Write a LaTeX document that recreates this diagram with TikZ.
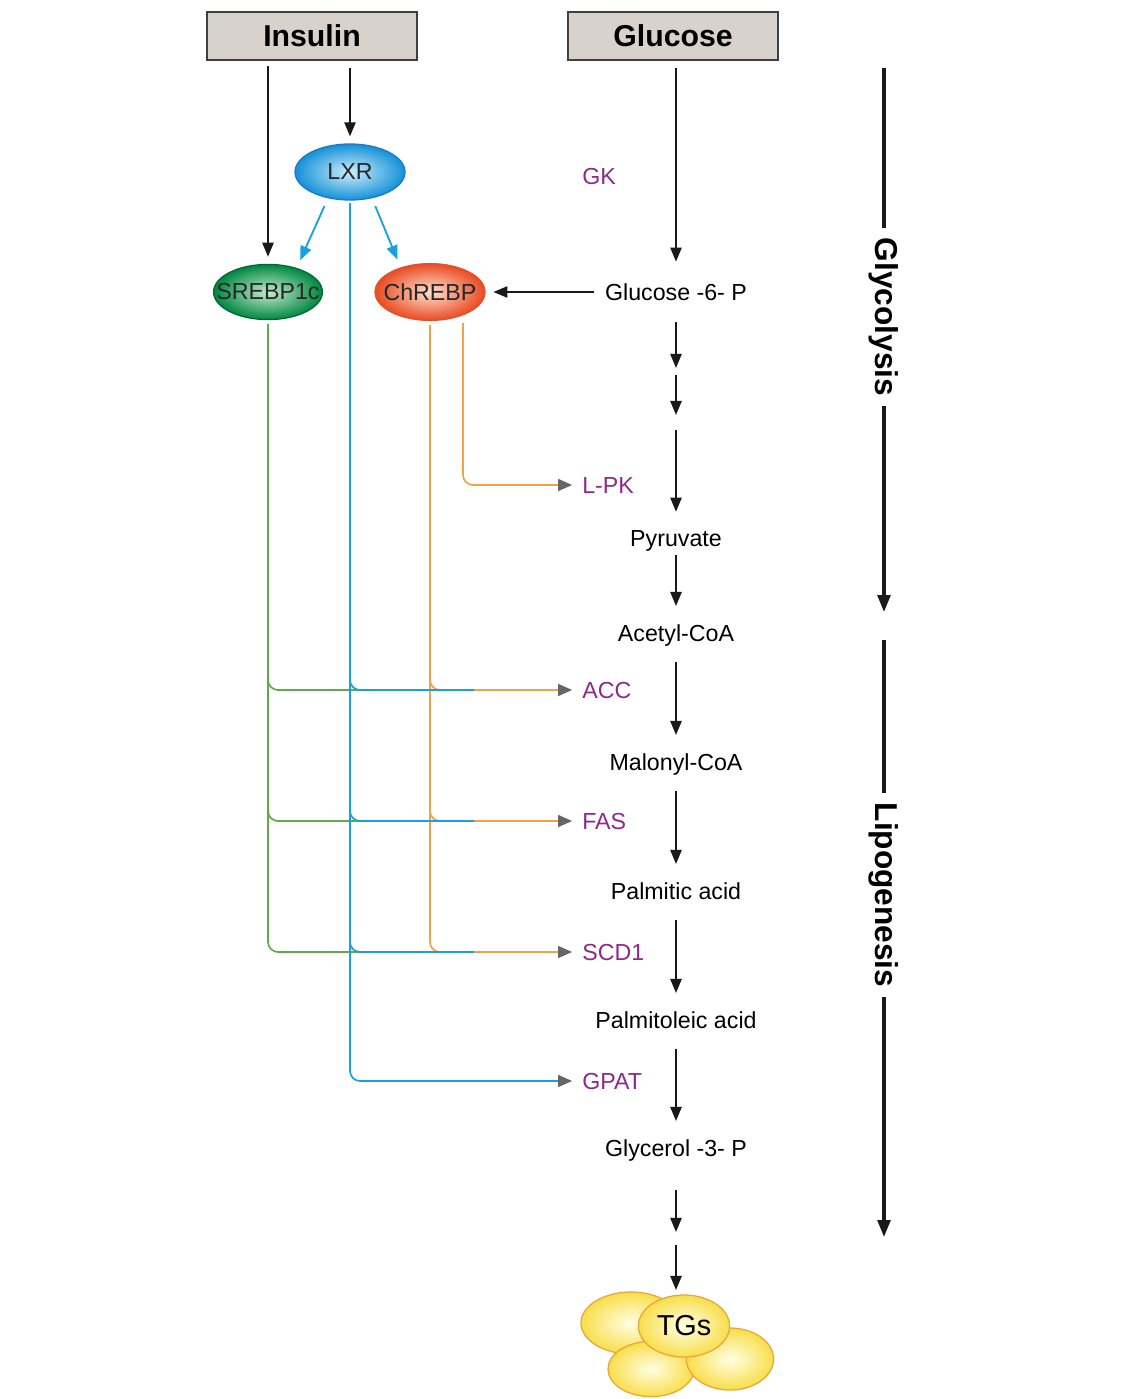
\documentclass[tikz,border=0pt]{standalone}
\usepackage{fontspec}
\setmainfont{Liberation Sans}
\usepackage{tikz}
\usetikzlibrary{arrows.meta,positioning,calc,shapes.geometric}
\definecolor{boxgray}{RGB}{216,210,205}
\definecolor{enzcol}{RGB}{142,40,138}
\definecolor{lxrblue}{RGB}{25,160,225}
\definecolor{srgreen}{RGB}{95,170,75}
\definecolor{chorange}{RGB}{243,160,70}
\definecolor{tgedge}{RGB}{236,165,55}
\tikzset{
  box/.style    ={draw=black!75,fill=boxgray,line width=0.9pt,minimum width=5.25cm,
                  minimum height=1.2cm,inner sep=0pt,font=\fontsize{21.5}{24}\selectfont\bfseries},
  met/.style    ={inner sep=0pt,text height=12pt,text depth=0pt,font=\fontsize{16.5}{20}\selectfont},
  enz/.style    ={met,text=enzcol,anchor=west},
  tf/.style     ={ellipse,inner sep=0pt,line width=0.9pt},
  tftxt/.style  ={font=\fontsize{16.5}{18}\selectfont,text=black!85},
  fat/.style    ={ellipse,draw=tgedge,line width=0.9pt,inner sep=0pt,
                  inner color=yellow!10,outer color={rgb,255:red,248;green,222;blue,75}},
  side/.style   ={rotate=-90,inner xsep=7pt,inner ysep=0pt,font=\fontsize{22.5}{24}\selectfont\bfseries},
  flow/.style   ={-{Triangle[length=10pt,width=8pt]},line width=1.3pt,black!90},
  bigflow/.style={line width=2.4pt,black!90},
  blu/.style    ={lxrblue,line width=1.2pt,rounded corners=0.25cm},
  grn/.style    ={srgreen,line width=1.2pt,rounded corners=0.25cm},
  orn/.style    ={chorange,line width=1.2pt,rounded corners=0.25cm},
  act/.style    ={-{Triangle[length=10pt,width=8.5pt,color=black!60]},shorten >=7pt},
}
\begin{document}
\begin{tikzpicture}[x=0.025cm,y=-0.025cm]
  \useasboundingbox (0,0) rectangle (1143,1399);
  % inputs
  \node[box] (ins) at (312,36) {Insulin};
  \node[box] (glc) at (673,36) {Glucose};
  % transcription factors
  \node[tf,draw={rgb,255:red,30;green,120;blue,200},inner color={rgb,255:red,205;green,238;blue,252},
        outer color={rgb,255:red,20;green,145;blue,215},minimum width=2.75cm,minimum height=1.4cm] (lxr) at (350,172) {};
  \node[tf,draw={rgb,255:red,0;green,105;blue,50},inner color={rgb,255:red,195;green,235;blue,205},
        outer color={rgb,255:red,0;green,135;blue,65},minimum width=2.72cm,minimum height=1.38cm] (srebp) at (268,292) {};
  \node[tf,draw={rgb,255:red,225;green,85;blue,40},inner color={rgb,255:red,255;green,225;blue,205},
        outer color={rgb,255:red,232;green,75;blue,35},minimum width=2.75cm,minimum height=1.42cm] (chrebp) at (430,292) {};
  \node[tftxt] at (lxr) {LXR};
  \node[tftxt] at (srebp) {SREBP1c};
  \node[tftxt] at (chrebp) {ChREBP};
  % metabolites
  \node[met] (g6p)   at (676,292)  {Glucose -6- P};
  \node[met] (pyr)   at (676,538)  {Pyruvate};
  \node[met] (acoa)  at (676,633)  {Acetyl-CoA};
  \node[met] (mcoa)  at (676,762)  {Malonyl-CoA};
  \node[met] (palm)  at (676,891)  {Palmitic acid};
  \node[met] (palmo) at (676,1020) {Palmitoleic acid};
  \node[met] (g3p)   at (676,1148) {Glycerol -3- P};
  % enzymes
  \node[enz] (gk)   at (582,176)  {GK};
  \node[enz] (lpk)  at (582,485)  {L-PK};
  \node[enz] (acc)  at (582,690)  {ACC};
  \node[enz] (fas)  at (582,821)  {FAS};
  \node[enz] (scd)  at (582,952)  {SCD1};
  \node[enz] (gpat) at (582,1081) {GPAT};
  % TG droplets
  \node[fat,minimum width=2.5cm,minimum height=1.55cm]  (tga) at (631,1323) {};
  \node[fat,minimum width=2.15cm,minimum height=1.38cm] (tgb) at (651,1369) {};
  \node[fat,minimum width=2.18cm,minimum height=1.55cm] (tgc) at (730,1359) {};
  \node[fat,minimum width=2.28cm,minimum height=1.55cm,font=\fontsize{20.5}{22}\selectfont] (tgs) at (684,1326) {TGs};
  % step points
  \coordinate (s1) at (676,368);
  \coordinate (s2) at (676,375);
  \coordinate (s3) at (676,415);
  \coordinate (s4) at (676,430);
  \coordinate (s5) at (676,1232);
  \coordinate (s6) at (676,1245);
  \coordinate (s7) at (676,1290);
  \coordinate (bend) at (474,0);
  \coordinate (lpkx) at ($(chrebp.south)+(33,2)$);
  % pathway
  \draw[flow,shorten <=5.5pt,shorten >=15.4pt] (g6p |- glc.south) -- (g6p.north);
  \draw[flow,shorten <=15.4pt] (g6p.south) -- (s1);
  \draw[flow] (s2) -- (s3);
  \draw[flow,shorten >=12.5pt] (s4) -- (pyr.north);
  \draw[flow,shorten <=6pt,shorten >=13pt] (pyr.south) -- (acoa.north);
  \foreach \a/\b in {acoa/mcoa,mcoa/palm,palm/palmo,palmo/g3p}
    \draw[flow,shorten <=14.5pt,shorten >=13pt] (\a.south) -- (\b.north);
  \draw[flow,shorten <=24pt] (g3p.south) -- (s5);
  \draw[flow] (s6) -- (s7);
  \draw[flow,shorten <=8pt,shorten >=5.5pt] (g6p.west) -- (chrebp.east);
  % insulin / LXR
  \draw[flow,shorten <=4pt,shorten >=5pt] (srebp |- ins.south) -- (srebp.north);
  \draw[flow,shorten <=5pt,shorten >=5pt] (lxr |- ins.south) -- (lxr.north);
  \draw[-{Triangle[length=10pt,width=8pt]},lxrblue,line width=1.3pt,shorten <=6pt,shorten >=6pt] (lxr.230) -- (srebp.40);
  \draw[-{Triangle[length=10pt,width=8pt]},lxrblue,line width=1.3pt,shorten <=6pt,shorten >=6pt] (lxr.310) -- (chrebp.140);
  % target genes
  \draw[orn,act] (lpkx) |- (lpk.west);
  \foreach \t in {acc,fas,scd}
    \draw[orn,act,shorten <=3pt] (chrebp.south) |- (\t.west);
  \foreach \t in {acc,fas,scd}
    \draw[grn,shorten <=3pt] (srebp.south) |- (\t.west -| bend);
  \foreach \t in {acc,fas,scd}
    \draw[blu,shorten <=2pt] (lxr.south) |- (\t.west -| bend);
  \draw[blu,act,shorten <=2pt] (lxr.south) |- (gpat.west);
  % side arrows
  \node[side] (gly) at (884,317) {Glycolysis};
  \node[side] (lip) at (884,895) {Lipogenesis};
  \coordinate (gly0) at (884,68);
  \coordinate (gly1) at (884,612);
  \coordinate (lip0) at (884,640);
  \coordinate (lip1) at (884,1237);
  \draw[bigflow] (gly0) -- (gly.west);
  \draw[bigflow,-{Triangle[length=12pt,width=9pt]}] (gly.east) -- (gly1);
  \draw[bigflow] (lip0) -- (lip.west);
  \draw[bigflow,-{Triangle[length=12pt,width=9pt]}] (lip.east) -- (lip1);
\end{tikzpicture}
\end{document}
